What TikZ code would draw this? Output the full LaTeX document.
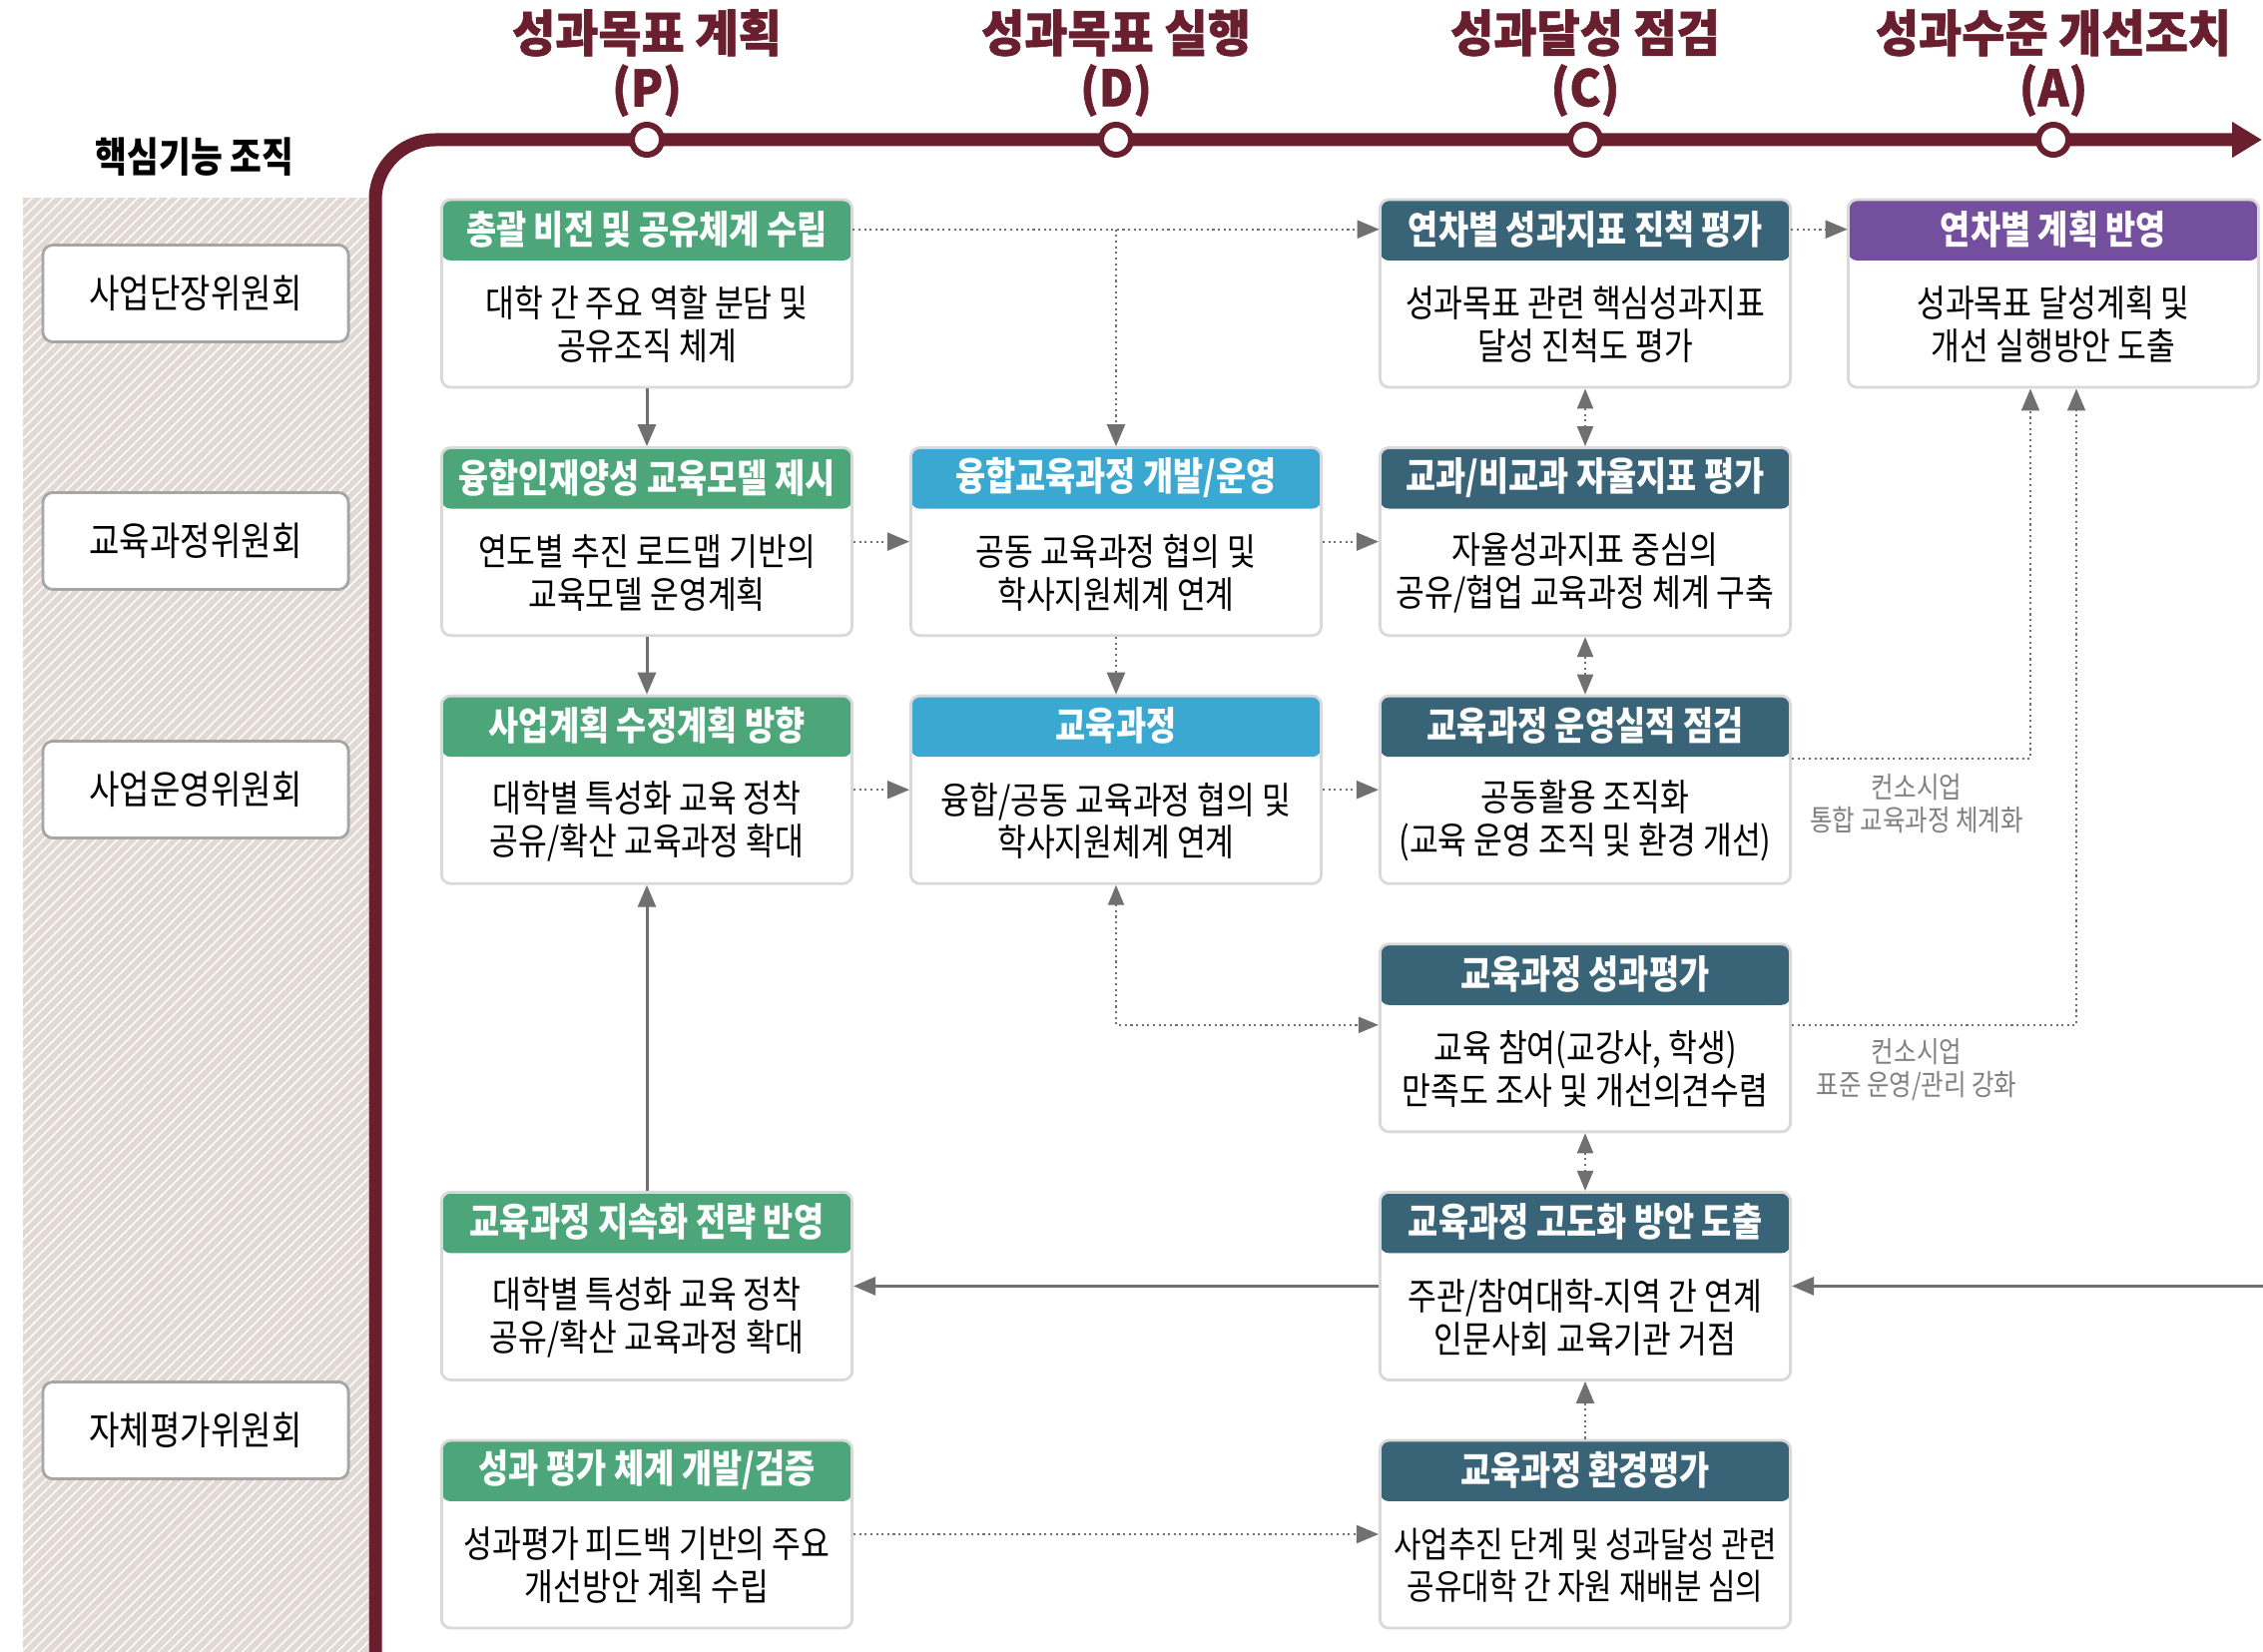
\documentclass[tikz,border=0pt]{standalone}
\usepackage{fontspec}
\setmainfont{Noto Sans CJK KR}[FakeStretch=0.84]
\newfontfamily\titlefont{Noto Sans CJK KR}[FakeStretch=0.94, BoldFeatures={FakeBold=1.2}]
\usetikzlibrary{positioning,arrows.meta,patterns}

\definecolor{maroon}{RGB}{106,31,47}
\definecolor{planGreen}{RGB}{76,166,122}
\definecolor{doBlue}{RGB}{58,168,208}
\definecolor{checkTeal}{RGB}{57,100,120}
\definecolor{actPurple}{RGB}{116,79,158}
\definecolor{arrowGray}{RGB}{112,112,112}
\definecolor{panelBg}{RGB}{226,217,213}

\begin{document}
\begin{tikzpicture}
    [x=0.01cm, y=-0.01cm,
    % PDCA timeline
    timeline/.style={draw=maroon, line width=0.13cm, rounded corners=0.6cm, -{Triangle[length=0.3cm,width=0.34cm]}},
    phaseDot/.style={circle, draw=maroon, line width=0.06cm, fill=white, minimum size=0.3cm, inner sep=0pt},
    phaseTitle/.style={align=center, text=maroon, font=\titlefont\bfseries\fontsize{14.2}{15.6}\selectfont},
    % Committees (left column)
    committee/.style={rectangle, draw=black!35, line width=0.8pt, fill=white, rounded corners=0.1cm, minimum width=3.06cm, minimum height=0.97cm, font=\fontsize{11.2}{13}\selectfont},
    % Cards: frame with coloured header band, header text, body text
    card/.style={rectangle, draw=black!15, line width=0.8pt, fill=white, rounded corners=0.09cm, minimum width=4.11cm, minimum height=1.88cm,
        path picture={\fill[#1] (path picture bounding box.north west) rectangle ([yshift=-0.61cm]path picture bounding box.north east);}},
    cardHead/.style={minimum width=4.11cm, minimum height=0.61cm, inner sep=0pt, text=white, font=\bfseries\fontsize{11.1}{13}\selectfont},
    cardBody/.style={minimum width=4.11cm, minimum height=1.27cm, inner sep=0pt, align=center, font=\fontsize{10.6}{12.2}\selectfont},
    note/.style={align=center, text=black!50, font=\fontsize{8.3}{9.4}\selectfont},
    % Connectors
    line/.style={draw=arrowGray, line width=0.85pt, -{Triangle[length=0.22cm,width=0.18cm]}},
    dotline/.style={line, line width=0.6pt, densely dotted},
    dbl/.style={dotline, {Triangle[length=0.2cm,width=0.16cm]}-{Triangle[length=0.2cm,width=0.16cm]}}]
    \useasboundingbox (0,0) rectangle (2267,1655);

    % Hatched committee panel
    \fill[panelBg] (23,198) rectangle (369,1655);
    \fill[pattern=north east lines, pattern color=white] (23,198) rectangle (369,1655);
    \node[font=\bfseries\fontsize{11.7}{13}\selectfont] (orgTitle) at (195,157) {핵심기능 조직};
    \node[committee] (leaders) at (196,294) {사업단장위원회};
    \node[committee] (currCom) at (196,542) {교육과정위원회};
    \node[committee] (opsCom)  at (196,791) {사업운영위원회};
    \node[committee] (evalCom) at (196,1433) {자체평가위원회};

    % Timeline with phases
    \draw[timeline] (376,1655) -- (376,140) -- (2266,140);
    \node[phaseDot] (dotP) at (648,140) {};
    \node[phaseDot] (dotD) at (1118,140) {};
    \node[phaseDot] (dotC) at (1588,140) {};
    \node[phaseDot] (dotA) at (2057,140) {};
    \node[phaseTitle] (titleP) at (648,63)  {성과목표 계획\\(P)};
    \node[phaseTitle] (titleD) at (1118,63) {성과목표 실행\\(D)};
    \node[phaseTitle] (titleC) at (1588,63) {성과달성 점검\\(C)};
    \node[phaseTitle] (titleA) at (2057,63) {성과수준 개선조치\\(A)};

    % Plan column
    \node[card=planGreen] (vision) at (648,294) {};
    \node[cardHead, below=0pt of vision.north] (vision-h) {총괄 비전 및 공유체계 수립};
    \node[cardBody, below=0pt of vision-h] (vision-b) {대학 간 주요 역할 분담 및\\공유조직 체계};
    \node[card=planGreen] (model) at (648,542.6) {};
    \node[cardHead, below=0pt of model.north] (model-h) {융합인재양성 교육모델 제시};
    \node[cardBody, below=0pt of model-h] (model-b) {연도별 추진 로드맵 기반의\\교육모델 운영계획};
    \node[card=planGreen] (plan) at (648,791.2) {};
    \node[cardHead, below=0pt of plan.north] (plan-h) {사업계획 수정계획 방향};
    \node[cardBody, below=0pt of plan-h] (plan-b) {대학별 특성화 교육 정착\\공유/확산 교육과정 확대};
    \node[card=planGreen] (sustain) at (648,1288.4) {};
    \node[cardHead, below=0pt of sustain.north] (sustain-h) {교육과정 지속화 전략 반영};
    \node[cardBody, below=0pt of sustain-h] (sustain-b) {대학별 특성화 교육 정착\\공유/확산 교육과정 확대};
    \node[card=planGreen] (evalSys) at (648,1537) {};
    \node[cardHead, below=0pt of evalSys.north] (evalSys-h) {성과 평가 체계 개발/검증};
    \node[cardBody, below=0pt of evalSys-h] (evalSys-b) {성과평가 피드백 기반의 주요\\개선방안 계획 수립};

    % Do column
    \node[card=doBlue] (devOp) at (1118,542.6) {};
    \node[cardHead, below=0pt of devOp.north] (devOp-h) {융합교육과정 개발/운영};
    \node[cardBody, below=0pt of devOp-h] (devOp-b) {공동 교육과정 협의 및\\학사지원체계 연계};
    \node[card=doBlue] (curri) at (1118,791.2) {};
    \node[cardHead, below=0pt of curri.north] (curri-h) {교육과정};
    \node[cardBody, below=0pt of curri-h] (curri-b) {융합/공동 교육과정 협의 및\\학사지원체계 연계};

    % Check column
    \node[card=checkTeal] (progress) at (1588,294) {};
    \node[cardHead, below=0pt of progress.north] (progress-h) {연차별 성과지표 진척 평가};
    \node[cardBody, below=0pt of progress-h] (progress-b) {성과목표 관련 핵심성과지표\\달성 진척도 평가};
    \node[card=checkTeal] (autonomy) at (1588,542.6) {};
    \node[cardHead, below=0pt of autonomy.north] (autonomy-h) {교과/비교과 자율지표 평가};
    \node[cardBody, below=0pt of autonomy-h] (autonomy-b) {자율성과지표 중심의\\공유/협업 교육과정 체계 구축};
    \node[card=checkTeal] (record) at (1588,791.2) {};
    \node[cardHead, below=0pt of record.north] (record-h) {교육과정 운영실적 점검};
    \node[cardBody, below=0pt of record-h] (record-b) {공동활용 조직화\\(교육 운영 조직 및 환경 개선)};
    \node[card=checkTeal] (outcome) at (1588,1039.8) {};
    \node[cardHead, below=0pt of outcome.north] (outcome-h) {교육과정 성과평가};
    \node[cardBody, below=0pt of outcome-h] (outcome-b) {교육 참여(교강사, 학생)\\만족도 조사 및 개선의견수렴};
    \node[card=checkTeal] (upgrade) at (1588,1288.4) {};
    \node[cardHead, below=0pt of upgrade.north] (upgrade-h) {교육과정 고도화 방안 도출};
    \node[cardBody, below=0pt of upgrade-h] (upgrade-b) {주관/참여대학-지역 간 연계\\인문사회 교육기관 거점};
    \node[card=checkTeal] (environ) at (1588,1537) {};
    \node[cardHead, below=0pt of environ.north] (environ-h) {교육과정 환경평가};
    \node[cardBody, below=0pt of environ-h, font=\fontsize{10.1}{12.2}\selectfont] (environ-b) {사업추진 단계 및 성과달성 관련\\공유대학 간 자원 재배분 심의};

    % Act column
    \node[card=actPurple] (reflect) at (2057,294) {};
    \node[cardHead, below=0pt of reflect.north] (reflect-h) {연차별 계획 반영};
    \node[cardBody, below=0pt of reflect-h] (reflect-b) {성과목표 달성계획 및\\개선 실행방안 도출};

    \node[note] (note1) at (1920,805) {컨소시업\\통합 교육과정 체계화};
    \node[note] (note2) at (1920,1072) {컨소시업\\표준 운영/관리 강화};
    \coordinate (rightEdge) at (2267,1288.4);

    % Solid flow
    \draw[line] (vision) -- (model);
    \draw[line] (model) -- (plan);
    \draw[line] (sustain) -- (plan);
    \draw[line] (upgrade) -- (sustain);
    \draw[line] (rightEdge) -- (upgrade);
    % Dotted links
    \draw[dotline] (vision-h) -- (progress-h);
    \draw[dotline] (vision-h -| devOp) -- (devOp);
    \draw[dotline] (progress-h) -- (reflect-h);
    \draw[dotline] (model) -- (devOp);
    \draw[dotline] (devOp) -- (autonomy);
    \draw[dotline] (devOp) -- (curri);
    \draw[dotline] (plan) -- (curri);
    \draw[dotline] (curri) -- (record);
    \draw[dbl] (curri) |- ([yshift=0.13cm]outcome.west);
    \draw[dbl] (progress) -- (autonomy);
    \draw[dbl] (autonomy) -- (record);
    \draw[dbl] (outcome) -- (upgrade);
    \draw[dotline] (environ) -- (upgrade);
    \draw[dotline] (evalSys) -- (environ);
    \draw[dotline] ([yshift=0.31cm]record.east) -| ([xshift=-0.23cm]reflect.south);
    \draw[dotline] ([yshift=0.13cm]outcome.east) -| ([xshift=0.23cm]reflect.south);
\end{tikzpicture}
\end{document}
